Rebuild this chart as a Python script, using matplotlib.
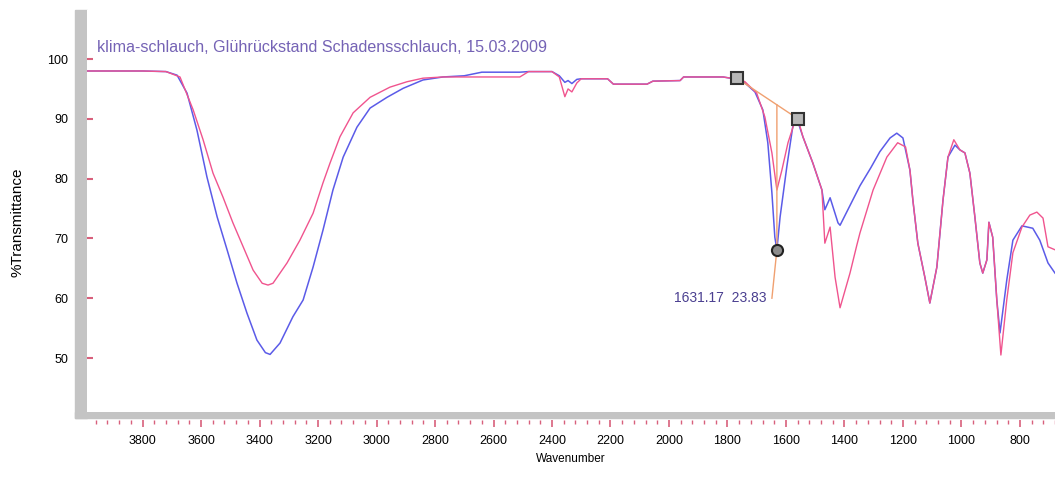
import matplotlib.pyplot as plt
from matplotlib.patches import Rectangle
from matplotlib.ticker import MultipleLocator
import numpy as np

# spectrum 1 (blue) - wavenumber / %T
wn_blue = [3990, 3800, 3720, 3682, 3648, 3614, 3580, 3545, 3511, 3477, 3443, 3409, 3380, 3364,
           3330, 3286, 3251, 3217, 3183, 3149, 3114, 3067, 3022, 2964, 2909, 2841, 2773, 2700,
           2640, 2510, 2480, 2400, 2375, 2356, 2345, 2332, 2315, 2300, 2210, 2190, 2075, 2055,
           1962, 1950, 1815, 1790, 1768, 1740, 1706, 1679, 1662, 1648, 1638, 1631, 1620, 1597,
           1577, 1563, 1542, 1508, 1477, 1467, 1449, 1422, 1415, 1381, 1347, 1310, 1279, 1244,
           1221, 1200, 1176, 1166, 1149, 1125, 1108, 1084, 1063, 1046, 1022, 1005, 988, 971,
           954, 937, 927, 913, 906, 893, 879, 868, 845, 824, 793, 756, 732, 704, 680]
t_blue = [98.0, 98.0, 97.9, 97.3, 94.3, 88.1, 80.3, 73.6, 68.1, 62.5, 57.5, 53.0, 50.9, 50.6,
          52.5, 56.9, 59.7, 65.2, 71.4, 78.1, 83.6, 88.6, 91.8, 93.6, 95.1, 96.5, 97.0, 97.2,
          97.8, 97.8, 97.9, 97.9, 97.2, 96.1, 96.4, 95.9, 96.6, 96.7, 96.7, 95.8, 95.8, 96.3,
          96.4, 97.0, 97.0, 96.8, 96.6, 96.0, 94.5, 91.5, 86.0, 77.6, 70.2, 68.1, 73.6, 82.0,
          88.6, 90.1, 87.0, 82.6, 78.1, 74.8, 76.8, 72.6, 72.2, 75.5, 78.8, 81.8, 84.5, 86.8,
          87.6, 86.8, 81.4, 76.4, 69.2, 63.5, 59.2, 65.2, 76.4, 83.6, 85.6, 84.8, 84.3, 80.9,
          73.6, 65.9, 64.2, 66.4, 72.7, 70.2, 59.7, 54.2, 63.0, 69.7, 72.1, 71.7, 69.7, 65.9, 64.2]

# spectrum 2 (pink)
wn_pink = [3990, 3800, 3720, 3672, 3627, 3593, 3559, 3525, 3491, 3456, 3422, 3391, 3371, 3354,
           3306, 3262, 3217, 3183, 3159, 3125, 3080, 3022, 2954, 2896, 2841, 2773, 2640, 2510,
           2480, 2400, 2375, 2356, 2345, 2332, 2315, 2300, 2210, 2190, 2075, 2055, 1962, 1950,
           1815, 1790, 1768, 1740, 1700, 1672, 1648, 1631, 1614, 1593, 1570, 1559, 1542, 1508,
           1477, 1467, 1449, 1432, 1415, 1381, 1358, 1347, 1302, 1255, 1218, 1191, 1176, 1166,
           1149, 1125, 1108, 1084, 1063, 1046, 1026, 1005, 988, 971, 954, 937, 927, 913, 906,
           893, 879, 865, 845, 824, 793, 766, 742, 721, 704, 680]
t_pink = [98.0, 98.0, 97.9, 97.0, 91.5, 86.5, 80.9, 76.9, 72.6, 68.6, 64.7, 62.5, 62.2, 62.5,
          65.9, 69.7, 74.2, 79.3, 82.6, 87.0, 91.0, 93.6, 95.3, 96.2, 96.8, 97.0, 97.0, 97.0,
          97.9, 97.9, 97.0, 93.7, 95.0, 94.5, 96.0, 96.7, 96.7, 95.8, 95.8, 96.3, 96.4, 97.0,
          97.0, 96.8, 96.8, 96.2, 94.3, 90.3, 84.3, 78.1, 81.4, 86.0, 89.5, 90.0, 87.0, 82.6,
          78.1, 69.2, 71.9, 63.5, 58.4, 64.2, 68.8, 70.9, 78.1, 83.6, 86.0, 85.3, 81.4, 76.4,
          69.2, 63.5, 59.2, 65.2, 76.4, 83.6, 86.5, 84.8, 84.3, 80.9, 73.6, 65.9, 64.2, 66.4,
          72.7, 70.2, 59.7, 50.5, 59.7, 67.6, 71.9, 73.9, 74.4, 73.4, 68.6, 68.1]

# peak pick: baseline points and peak
base_wn = [1768, 1559]
base_t = [96.8, 90.0]
peak_wn = 1631
peak_t = 68.1
peak_label = '1631.17  23.83'
label_wn = 1648
label_t = 60.0

title = 'klima-schlauch, Glührückstand Schadensschlauch, 15.03.2009'
x_ticks = list(range(800, 4000, 200))
y_ticks = [50, 60, 70, 80, 90, 100]

W, H = 1055, 479
narrow = ['Liberation Sans Narrow', 'Liberation Sans', 'DejaVu Sans']
pink_tick = '#d8607c'
gray = '#c4c4c4'

fig = plt.figure(figsize=(W / 100, H / 100), dpi=100)
ax = fig.add_axes([87 / W, 67 / H, 968 / W, 402 / H])

ax.plot(wn_blue, t_blue, color='#5b5be8', linewidth=1.1)
ax.plot(wn_pink, t_pink, color='#f0548e', linewidth=1.0)

# peak pick annotation
base_at_peak = np.interp(peak_wn, base_wn[::-1], base_t[::-1])
ax.plot(base_wn, base_t, color='#f0a070', linewidth=1)
ax.plot([peak_wn, peak_wn, label_wn], [base_at_peak, peak_t, label_t], color='#f0a070', linewidth=1)
ax.plot(base_wn, base_t, linestyle='none', marker='s', markersize=9,
        markerfacecolor='#b8b8b8', markeredgecolor='#333333', markeredgewidth=1.5)
ax.plot([peak_wn], [peak_t], linestyle='none', marker='o', markersize=8,
        markerfacecolor='#8c8c8c', markeredgecolor='#222222', markeredgewidth=1.5)
ax.text(label_wn + 20, label_t, peak_label, ha='right', va='center', color='#4a3f90',
        fontsize=10, family=narrow)

ax.text(0.01, 1 - 38 / 402, title, transform=ax.transAxes, ha='left', va='center',
        color='#7563b5', fontsize=11.6, family=narrow)

ax.set_xlim(3990, 680)
ax.set_ylim(40.97, 108.2)

for s in ['top', 'right', 'left', 'bottom']:
    ax.spines[s].set_visible(False)
ax.spines['bottom'].set_position(('outward', 5.8))

ax.set_xticks(x_ticks)
ax.xaxis.set_minor_locator(MultipleLocator(40))
ax.set_yticks(y_ticks)
ax.tick_params(axis='x', which='major', direction='out', length=5, width=1.2, color=pink_tick,
               pad=6, labelsize=9)
ax.tick_params(axis='x', which='minor', direction='out', length=3, width=1, color=pink_tick)
ax.tick_params(axis='y', which='major', direction='in', length=4, width=1.5, color=pink_tick,
               pad=13.5, labelsize=9)
for lab in ax.get_xticklabels() + ax.get_yticklabels():
    lab.set_family(narrow)

ax.set_xlabel('Wavenumber', fontsize=8.5, family=narrow, labelpad=4)
fig.text(18 / W, 1 - 222 / H, '%Transmittance', rotation=90, ha='center', va='center',
         fontsize=11, family=['Liberation Sans', 'DejaVu Sans'])

# gray frame bars
fig.add_artist(Rectangle((75 / W, 61 / H), 12 / W, 408 / H, transform=fig.transFigure,
                         color=gray, zorder=0))
fig.add_artist(Rectangle((75 / W, 61 / H), 980 / W, 6 / H, transform=fig.transFigure,
                         color=gray, zorder=0))

plt.savefig('out.png', dpi=100)
